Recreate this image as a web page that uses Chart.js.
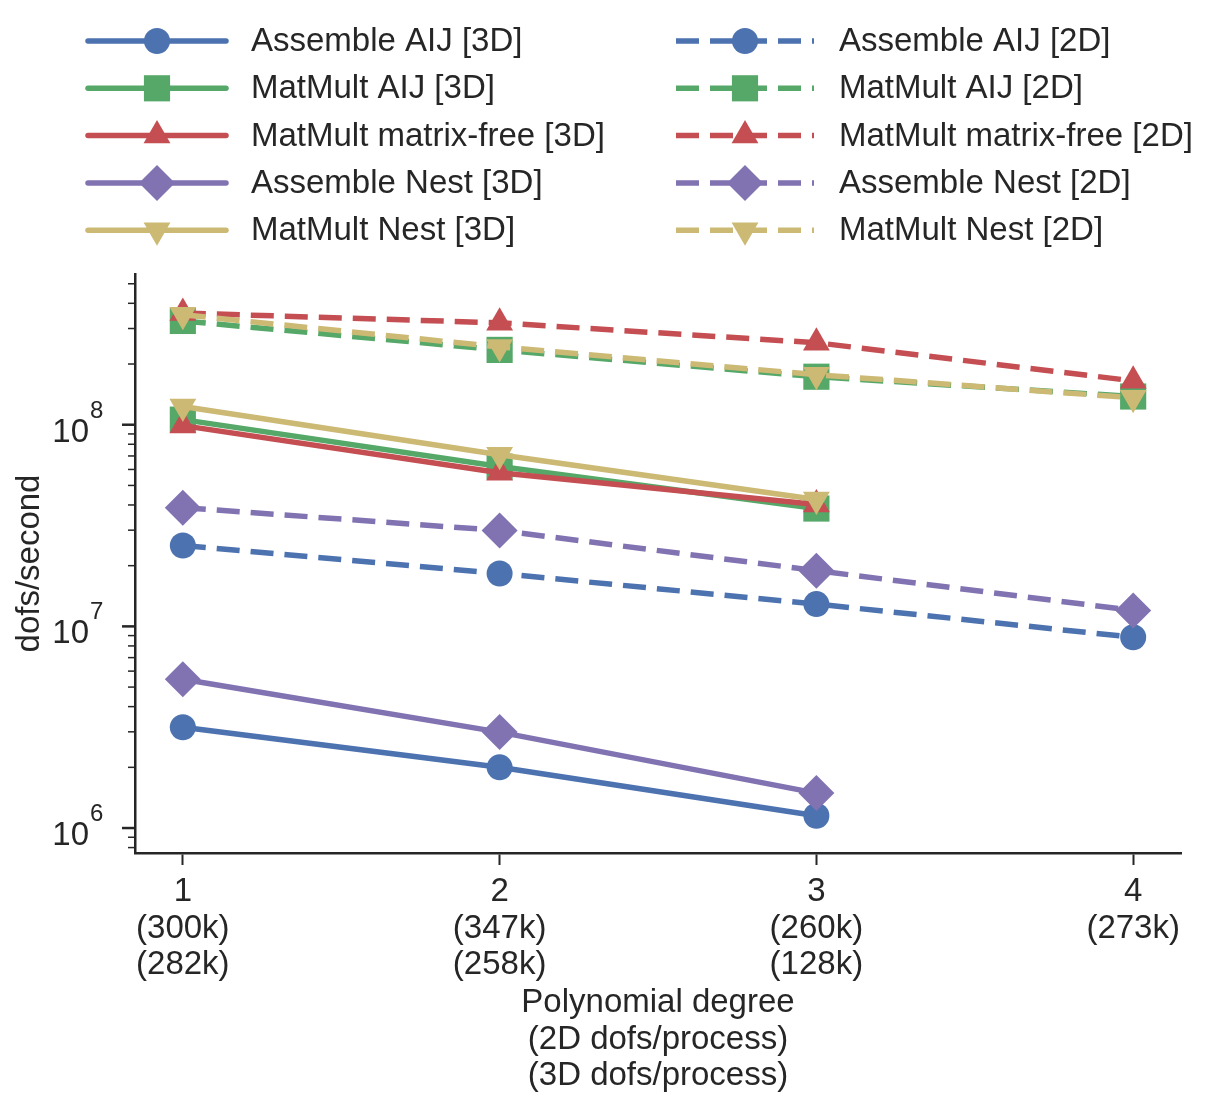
<!DOCTYPE html>
<html>
<head>
<meta charset="utf-8">
<title>dofs/second vs polynomial degree</title>
<script src="https://cdn.jsdelivr.net/npm/chart.js@4/dist/chart.umd.min.js"></script>
<style>
  html, body { margin: 0; padding: 0; background: #fff; }
  #wrap { width: 1221px; height: 1110px; position: relative; }
</style>
</head>
<body>
<div id="wrap"><canvas id="grafico"></canvas></div>
<script>
// polynomial degree on the x axis
const degrees = [1, 2, 3, 4];
const dofs2d = ['(300k)', '(347k)', '(260k)', '(273k)'];
const dofs3d = ['(282k)', '(258k)', '(128k)'];

// 3D runs (degrees 1-3)
const assembleAij3d = [3.16e6, 2.0e6, 1.15e6];
const matmultAij3d = [1.06e8, 6.2e7, 3.84e7];
const matfree3d = [0.99e8, 5.78e7, 4.02e7];
const assembleNest3d = [5.47e6, 2.99e6, 1.49e6];
const matmultNest3d = [1.23e8, 7.1e7, 4.26e7];

// 2D runs (degrees 1-4)
const assembleAij2d = [2.52e7, 1.83e7, 1.29e7, 8.83e6];
const matmultAij2d = [3.27e8, 2.35e8, 1.73e8, 1.38e8];
const matfree2d = [3.58e8, 3.2e8, 2.55e8, 1.65e8];
const assembleNest2d = [3.88e7, 2.99e7, 1.89e7, 1.2e7];
const matmultNest2d = [3.51e8, 2.43e8, 1.77e8, 1.36e8];

const yDecades = [1e6, 1e7, 1e8];

const TEXT = '#262626';
const FONT = '"Liberation Sans", Arial, Helvetica, sans-serif';

const cores = {
    azul: '#4C72B0',
    verde: '#55A868',
    vermelho: '#C44E52',
    roxo: '#8172B2',
    amarelo: '#CCB974'
};

// marker settings by shape
const marcadores = {
    circulo: { pointStyle: 'circle', pointRadius: 13, pointRotation: 0 },
    quadrado: { pointStyle: 'rect', pointRadius: 18.5, pointRotation: 0 },
    triangulo: { pointStyle: 'triangle', pointRadius: 15.5, pointRotation: 0 },
    losango: { pointStyle: 'rectRot', pointRadius: 18, pointRotation: 0 },
    trianguloBaixo: { pointStyle: 'triangle', pointRadius: 15.5, pointRotation: 180 }
};

function serie(label, valores, cor, marcador, tracejado) {
    const m = marcadores[marcador];
    return {
        label: label,
        data: valores.map((v, i) => ({ x: degrees[i], y: v })),
        borderColor: cor,
        backgroundColor: cor,
        borderWidth: 5.5,
        borderDash: tracejado ? [23, 11] : [],
        borderCapStyle: tracejado ? 'butt' : 'round',
        pointStyle: m.pointStyle,
        pointRadius: m.pointRadius,
        pointHoverRadius: m.pointRadius,
        pointRotation: m.pointRotation,
        pointBackgroundColor: cor,
        pointBorderWidth: 0,
        tension: 0,
        fill: false
    };
}

const datasets = [
    serie('Assemble AIJ [3D]', assembleAij3d, cores.azul, 'circulo', false),
    serie('MatMult AIJ [3D]', matmultAij3d, cores.verde, 'quadrado', false),
    serie('MatMult matrix-free [3D]', matfree3d, cores.vermelho, 'triangulo', false),
    serie('Assemble Nest [3D]', assembleNest3d, cores.roxo, 'losango', false),
    serie('MatMult Nest [3D]', matmultNest3d, cores.amarelo, 'trianguloBaixo', false),
    serie('Assemble AIJ [2D]', assembleAij2d, cores.azul, 'circulo', true),
    serie('MatMult AIJ [2D]', matmultAij2d, cores.verde, 'quadrado', true),
    serie('MatMult matrix-free [2D]', matfree2d, cores.vermelho, 'triangulo', true),
    serie('Assemble Nest [2D]', assembleNest2d, cores.roxo, 'losango', true),
    serie('MatMult Nest [2D]', matmultNest2d, cores.amarelo, 'trianguloBaixo', true)
];
// later series on top, like the original
datasets.forEach((ds, i) => { ds.order = datasets.length - i; });

// draws the y ticks (major + minor) and the 10^n labels
const eixoLog = {
    id: 'eixoLog',
    afterDraw(chart) {
        const ctx = chart.ctx;
        const y = chart.scales.y;
        const left = chart.chartArea.left;
        ctx.save();
        ctx.strokeStyle = TEXT;
        for (let e = 5; e <= 9; e++) {
            for (let m = 1; m <= 9; m++) {
                const v = m * Math.pow(10, e);
                if (v < y.min || v > y.max) continue;
                const py = y.getPixelForValue(v);
                const major = m === 1;
                ctx.lineWidth = major ? 2.5 : 1.5;
                ctx.beginPath();
                ctx.moveTo(left - (major ? 13 : 7), py);
                ctx.lineTo(left, py);
                ctx.stroke();
            }
        }
        ctx.fillStyle = TEXT;
        yDecades.forEach(v => {
            const py = y.getPixelForValue(v);
            const exp = Math.round(Math.log10(v));
            ctx.font = '33px ' + FONT;
            ctx.textAlign = 'right';
            ctx.textBaseline = 'alphabetic';
            ctx.fillText('10', 89, py + 17);
            ctx.font = '24px ' + FONT;
            ctx.textAlign = 'left';
            ctx.fillText(String(exp), 90, py - 7);
        });
        ctx.restore();
    }
};

// two-column legend above the plot
const legenda = {
    id: 'legenda',
    afterDraw(chart) {
        const ctx = chart.ctx;
        chart.data.datasets.forEach((ds, i) => {
            const col = i < 5 ? 0 : 1;
            const row = i % 5;
            const x0 = col ? 676 : 88;
            const yy = 41 + row * 47.3;
            ctx.save();
            ctx.strokeStyle = ds.borderColor;
            ctx.lineWidth = ds.borderWidth;
            ctx.lineCap = ds.borderCapStyle;
            ctx.setLineDash(ds.borderDash);
            ctx.beginPath();
            ctx.moveTo(x0, yy);
            ctx.lineTo(x0 + 138, yy);
            ctx.stroke();
            ctx.setLineDash([]);
            ctx.fillStyle = ds.pointBackgroundColor;
            Chart.helpers.drawPoint(ctx, {
                pointStyle: ds.pointStyle,
                radius: ds.pointRadius,
                rotation: ds.pointRotation,
                borderWidth: 0
            }, x0 + 69, yy);
            ctx.fillStyle = TEXT;
            ctx.font = '33px ' + FONT;
            ctx.textAlign = 'left';
            ctx.textBaseline = 'middle';
            ctx.fillText(ds.label, x0 + 163, yy + 1);
            ctx.restore();
        });
    }
};

new Chart(document.getElementById('grafico'), {
    type: 'line',
    data: { datasets: datasets },
    options: {
        responsive: true,
        maintainAspectRatio: false,
        animation: false,
        devicePixelRatio: 1,
        layout: { padding: { top: 274, right: 40, left: 0, bottom: 0 } },
        plugins: {
            legend: { display: false },
            tooltip: { enabled: false }
        },
        scales: {
            x: {
                type: 'linear',
                min: 0.849,
                max: 4.151,
                afterBuildTicks: (scale) => {
                    scale.ticks = degrees.map(v => ({ value: v }));
                },
                afterFit: (scale) => { scale.height = 1110 - 853; },
                ticks: {
                    color: TEXT,
                    padding: 9,
                    autoSkip: false,
                    maxRotation: 0,
                    font: { family: FONT, size: 33, lineHeight: 1.1 },
                    callback: (value) => {
                        const i = degrees.indexOf(value);
                        const linhas = [String(value), dofs2d[i]];
                        if (dofs3d[i]) linhas.push(dofs3d[i]);
                        return linhas;
                    }
                },
                grid: {
                    display: true,
                    drawOnChartArea: false,
                    drawTicks: true,
                    tickLength: 12,
                    tickWidth: 2,
                    tickColor: TEXT
                },
                border: { display: true, color: TEXT, width: 2.5 },
                title: {
                    display: true,
                    text: ['Polynomial degree', '(2D dofs/process)', '(3D dofs/process)'],
                    color: TEXT,
                    font: { family: FONT, size: 33, lineHeight: 1.1 },
                    padding: { top: 0, bottom: 16 }
                }
            },
            y: {
                type: 'logarithmic',
                min: 7.52e5,
                max: 5.59e8,
                afterFit: (scale) => { scale.width = 135; },
                ticks: { display: false },
                grid: { display: false },
                border: { display: true, color: TEXT, width: 2.5 },
                title: {
                    display: true,
                    text: 'dofs/second',
                    color: TEXT,
                    font: { family: FONT, size: 33, lineHeight: 1.1 },
                    padding: { top: 12, bottom: 0 }
                }
            }
        }
    },
    plugins: [eixoLog, legenda]
});
</script>
</body>
</html>
